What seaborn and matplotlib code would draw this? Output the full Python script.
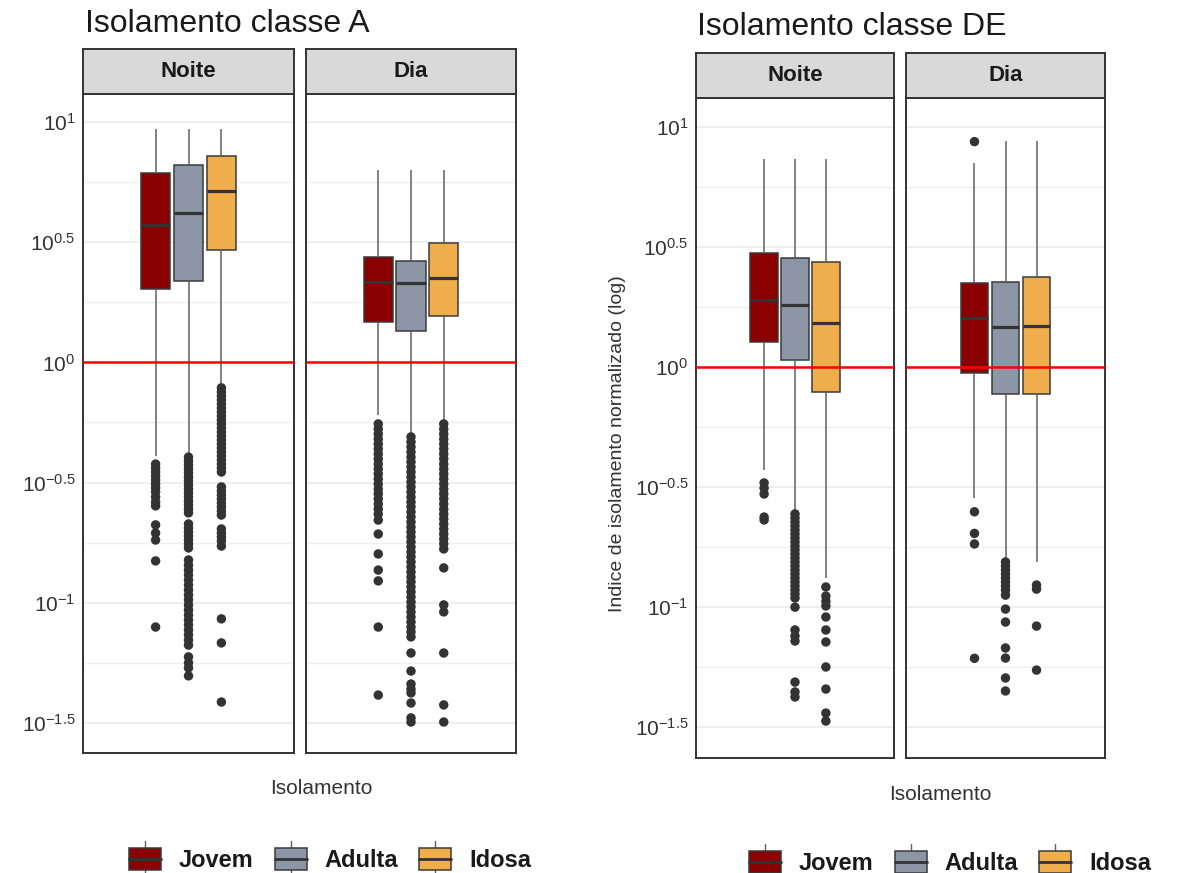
import numpy as np
import pandas as pd
import seaborn as sns
import matplotlib
matplotlib.use("Agg")
import matplotlib.pyplot as plt
from matplotlib.patches import Patch, Rectangle
from matplotlib.lines import Line2D
from matplotlib.legend_handler import HandlerBase

# ---------------------------------------------------------------- data
FAIXAS = ["Jovem", "Adulta", "Idosa"]
PERIODOS = ["Noite", "Dia"]
CORES = ["#8B0000", "#8D96A6", "#EFAE4B"]

# Index values are stored as log10 exponents.
# Box summaries: lower whisker, Q1, median, Q3, upper whisker
A_NOITE_CAIXAS = {
    "Jovem":  [-0.389, 0.304, 0.572, 0.787, 0.970],
    "Adulta": [-0.378, 0.340, 0.620, 0.821, 0.970],
    "Idosa":  [-0.094, 0.468, 0.713, 0.860, 0.970],
}
A_DIA_CAIXAS = {
    "Jovem":  [-0.219, 0.169, 0.336, 0.440, 0.800],
    "Adulta": [-0.302, 0.131, 0.329, 0.422, 0.800],
    "Idosa":  [-0.253, 0.193, 0.352, 0.495, 0.800],
}
DE_NOITE_CAIXAS = {
    "Jovem":  [-0.429, 0.105, 0.279, 0.473, 0.864],
    "Adulta": [-0.600, 0.029, 0.258, 0.452, 0.864],
    "Idosa":  [-0.880, -0.103, 0.184, 0.438, 0.864],
}
DE_DIA_CAIXAS = {
    "Jovem":  [-0.547, -0.024, 0.202, 0.351, 0.850],
    "Adulta": [-0.801, -0.114, 0.165, 0.355, 0.942],
    "Idosa":  [-0.811, -0.114, 0.172, 0.376, 0.942],
}

# Outlying observations (log10)
A_NOITE_EXTREMOS = {
    "Jovem": [-0.423, -0.439, -0.456, -0.473, -0.489, -0.506, -0.522, -0.539,
              -0.560, -0.581, -0.597, -0.676, -0.710, -0.739, -0.826, -1.101],
    "Adulta": [-0.394, -0.410, -0.427, -0.443, -0.460, -0.477, -0.493, -0.510,
               -0.527, -0.543, -0.560, -0.577, -0.593, -0.610, -0.626, -0.672,
               -0.689, -0.705, -0.722, -0.739, -0.755, -0.772, -0.822, -0.843,
               -0.864, -0.884, -0.905, -0.926, -0.947, -0.968, -0.988, -1.009,
               -1.030, -1.051, -1.072, -1.092, -1.113, -1.134, -1.155, -1.176,
               -1.225, -1.250, -1.271, -1.304],
    "Idosa": [-0.106, -0.123, -0.140, -0.156, -0.173, -0.190, -0.206, -0.223,
              -0.240, -0.256, -0.273, -0.290, -0.306, -0.323, -0.339, -0.356,
              -0.373, -0.389, -0.406, -0.423, -0.439, -0.456, -0.518, -0.535,
              -0.552, -0.568, -0.585, -0.601, -0.618, -0.635, -0.693, -0.710,
              -0.726, -0.743, -0.764, -1.067, -1.167, -1.413],
}
A_DIA_EXTREMOS = {
    "Jovem": [-0.256, -0.277, -0.298, -0.319, -0.339, -0.360, -0.381, -0.402,
              -0.423, -0.443, -0.464, -0.485, -0.506, -0.527, -0.547, -0.568,
              -0.589, -0.610, -0.631, -0.656, -0.714, -0.797, -0.864, -0.909,
              -1.101, -1.384],
    "Adulta": [-0.310, -0.331, -0.352, -0.373, -0.394, -0.414, -0.435, -0.456,
               -0.477, -0.498, -0.518, -0.539, -0.560, -0.581, -0.601, -0.622,
               -0.643, -0.664, -0.685, -0.705, -0.726, -0.747, -0.768, -0.789,
               -0.809, -0.830, -0.851, -0.872, -0.893, -0.913, -0.934, -0.955,
               -0.976, -0.997, -1.017, -1.038, -1.059, -1.080, -1.101, -1.121,
               -1.142, -1.209, -1.284, -1.338, -1.359, -1.375, -1.417, -1.479,
               -1.496],
    "Idosa": [-0.256, -0.277, -0.298, -0.319, -0.339, -0.360, -0.381, -0.402,
              -0.423, -0.443, -0.464, -0.485, -0.506, -0.527, -0.547, -0.568,
              -0.589, -0.610, -0.631, -0.651, -0.672, -0.693, -0.714, -0.735,
              -0.755, -0.776, -0.855, -1.009, -1.038, -1.209, -1.425, -1.496],
}
DE_NOITE_EXTREMOS = {
    "Jovem": [-0.483, -0.504, -0.529, -0.625, -0.637],
    "Adulta": [-0.612, -0.629, -0.646, -0.662, -0.679, -0.696, -0.712, -0.729,
               -0.746, -0.762, -0.779, -0.796, -0.812, -0.829, -0.846, -0.862,
               -0.879, -0.896, -0.912, -0.929, -0.945, -0.962, -1.000, -1.095,
               -1.120, -1.141, -1.312, -1.353, -1.374],
    "Idosa": [-0.916, -0.954, -0.975, -0.995, -1.041, -1.095, -1.145, -1.249,
              -1.341, -1.441, -1.474],
}
DE_DIA_EXTREMOS = {
    "Jovem": [0.938, -0.603, -0.693, -0.737, -1.213],
    "Adulta": [-0.812, -0.829, -0.846, -0.862, -0.879, -0.896, -0.912, -0.929,
               -0.950, -1.008, -1.062, -1.170, -1.212, -1.295, -1.349],
    "Idosa": [-0.908, -0.925, -1.079, -1.262],
}

MARCAS_Y = [-1.5, -1.0, -0.5, 0.0, 0.5, 1.0]
ROTULOS_Y = ["$10^{-1.5}$", "$10^{-1}$", "$10^{-0.5}$", "$10^{0}$", "$10^{0.5}$", "$10^{1}$"]
MARCAS_Y_MENORES = [-1.25, -0.75, -0.25, 0.25, 0.75]

# ---------------------------------------------------------------- style
sns.set_style("white")
plt.rcParams["font.family"] = ["Liberation Sans", "DejaVu Sans"]
plt.rcParams["mathtext.default"] = "regular"

W, H = 1183, 873
fig = plt.figure(figsize=(W / 100, H / 100), dpi=100)

TXT = "#1a1a1a"
BORDA = "#333333"


def caixa_px(x0, x1, y0, y1):
    return [x0 / W, 1 - y1 / H, (x1 - x0) / W, (y1 - y0) / H]


def tabela(valores):
    linhas = [(f, 10.0 ** v) for f in FAIXAS for v in valores[f]]
    df = pd.DataFrame(linhas, columns=["faixa", "indice"])
    df["eixo"] = "Isolamento"
    return df


def painel(ax, caixas, extremos, ylim, com_rotulos):
    sns.boxplot(
        data=tabela(caixas), x="eixo", y="indice", hue="faixa",
        hue_order=FAIXAS, palette=CORES, saturation=1, width=0.8, gap=0.1,
        whis=(0, 100), showcaps=False, showfliers=False,
        linecolor="#3a3a3a", linewidth=1.1, log_scale=True, legend=False,
        medianprops={"color": "#333333", "linewidth": 2.3},
        whiskerprops={"color": "#606060", "linewidth": 1.1},
        ax=ax,
    )
    sns.stripplot(
        data=tabela(extremos), x="eixo", y="indice", hue="faixa",
        hue_order=FAIXAS, palette=["#333333"] * 3, dodge=True, jitter=False,
        size=6.8, linewidth=0, log_scale=True, legend=False, ax=ax,
    )
    ax.axhline(1.0, color="#FF0000", lw=1.8, zorder=6)
    ax.set_xlim(-0.855, 0.855)
    ax.set_ylim(10 ** ylim[0], 10 ** ylim[1])
    ax.set_yticks([10 ** v for v in MARCAS_Y])
    ax.set_yticklabels(ROTULOS_Y)
    ax.set_yticks([10 ** v for v in MARCAS_Y_MENORES], minor=True)
    ax.set_yticklabels([], minor=True)
    ax.set_xticks([])
    ax.set_xlabel("")
    ax.set_ylabel("")
    ax.yaxis.grid(True, which="major", color="#EBEBEB", lw=1.2)
    ax.yaxis.grid(True, which="minor", color="#EFEFEF", lw=1.0)
    ax.set_axisbelow(True)
    ax.tick_params(axis="y", which="minor", length=0)
    if com_rotulos:
        ax.tick_params(axis="y", which="major", length=3.5, width=1.0,
                       color=BORDA, labelsize=15, labelcolor="#333333", pad=2)
    else:
        ax.tick_params(axis="y", which="major", length=0, labelleft=False)
    for s in ax.spines.values():
        s.set_color(BORDA)
        s.set_linewidth(1.4)


def faixa_titulo(rect, texto):
    ax = fig.add_axes(rect)
    ax.set_facecolor("#D9D9D9")
    ax.set_xticks([])
    ax.set_yticks([])
    for s in ax.spines.values():
        s.set_color(BORDA)
        s.set_linewidth(1.4)
    ax.text(0.5, 0.5, texto, ha="center", va="center", fontsize=16,
            fontweight="bold", color=TXT, transform=ax.transAxes)


class ChaveCaixa(HandlerBase):
    def create_artists(self, legend, orig_handle, xdescent, ydescent,
                       width, height, fontsize, trans):
        x0, y0 = -xdescent, -ydescent
        cx = x0 + width / 2
        corpo = Rectangle((x0, y0), width, height,
                          facecolor=orig_handle.get_facecolor(),
                          edgecolor="#3a3a3a", lw=1.1, transform=trans)
        mediana = Line2D([x0, x0 + width], [y0 + height / 2] * 2,
                         color="#333333", lw=2.0, transform=trans)
        sup = Line2D([cx, cx], [y0 + height, y0 + height * 1.3],
                     color="#606060", lw=1.0, transform=trans)
        inf = Line2D([cx, cx], [y0 - height * 0.3, y0],
                     color="#606060", lw=1.0, transform=trans)
        return [sup, inf, corpo, mediana]


def legenda(cx, cy):
    alcas = [Patch(facecolor=c) for c in CORES]
    fig.legend(alcas, FAIXAS, loc="center", bbox_to_anchor=(cx / W, 1 - cy / H),
               ncol=3, frameon=False, handler_map={Patch: ChaveCaixa()},
               prop={"size": 17, "weight": "bold"}, labelcolor=TXT,
               handlelength=1.36, handleheight=1.05, handletextpad=0.75,
               columnspacing=0.9)


# ---------------------------------------------------------------- classe A
fig.text(85 / W, 1 - 32 / H, "Isolamento classe A", fontsize=23, color=TXT,
         ha="left", va="baseline")
ylim_a = (-1.625, 1.1165)
ax1 = fig.add_axes(caixa_px(83, 294, 94, 753))
painel(ax1, A_NOITE_CAIXAS, A_NOITE_EXTREMOS, ylim_a, True)
ax2 = fig.add_axes(caixa_px(306, 516, 94, 753))
painel(ax2, A_DIA_CAIXAS, A_DIA_EXTREMOS, ylim_a, False)
faixa_titulo(caixa_px(83, 294, 49, 94), PERIODOS[0])
faixa_titulo(caixa_px(306, 516, 49, 94), PERIODOS[1])
fig.text(321 / W, 1 - 788 / H, "Isolamento", fontsize=15, color="#333333",
         ha="center", va="center")
legenda(330, 860)

# ---------------------------------------------------------------- classe DE
fig.text(697 / W, 1 - 35 / H, "Isolamento classe DE", fontsize=23, color=TXT,
         ha="left", va="baseline")
ylim_de = (-1.628, 1.1195)
ax3 = fig.add_axes(caixa_px(696, 894, 98, 758))
painel(ax3, DE_NOITE_CAIXAS, DE_NOITE_EXTREMOS, ylim_de, True)
ax4 = fig.add_axes(caixa_px(906, 1105, 98, 758))
painel(ax4, DE_DIA_CAIXAS, DE_DIA_EXTREMOS, ylim_de, False)
faixa_titulo(caixa_px(696, 894, 53, 98), PERIODOS[0])
faixa_titulo(caixa_px(906, 1105, 53, 98), PERIODOS[1])
fig.text(940 / W, 1 - 795 / H, "Isolamento", fontsize=15, color="#333333",
         ha="center", va="center")
fig.text(617 / W, 1 - 444 / H, "Indice de isolamento normalizado (log)",
         fontsize=14, color="#333333", rotation=90, ha="center", va="center")
legenda(950, 863)

fig.savefig("out.png", dpi=100, facecolor="white")
